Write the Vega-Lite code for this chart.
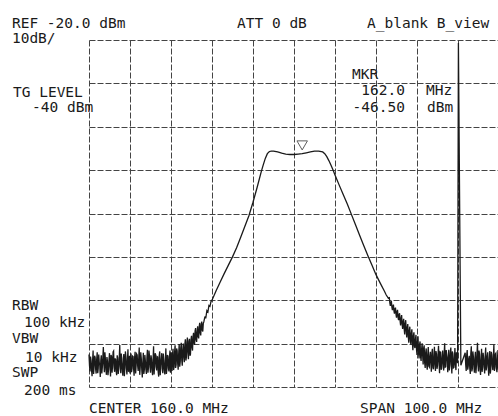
{
"$schema":"https://vega.github.io/schema/vega-lite/v6.json",
"width":410,"height":347,
"autosize":{"type":"none"},
"padding":{"left":89,"top":40,"right":0,"bottom":29},
"background":"white",
"config":{"view":{"stroke":null},"text":{"font":"DejaVu Sans Mono","fontSize":14.5,"color":"#1a1a1a","align":"left","baseline":"alphabetic"}},
"layer":[
{"data":{"values":[
{"f":110,"p":-92.5},{"f":110.25,"p":-96.4},{"f":110.5,"p":-93.9},{"f":110.75,"p":-97.5},{"f":111,"p":-91.6},{"f":111.25,"p":-95.2},{"f":111.5,"p":-93.2},{"f":111.75,"p":-96.9},{"f":112,"p":-92.0},{"f":112.25,"p":-95.7},{"f":112.5,"p":-94.3},{"f":112.75,"p":-97.7},{"f":113,"p":-92.7},{"f":113.25,"p":-95.5},{"f":113.5,"p":-90.8},{"f":113.75,"p":-96.6},{"f":114,"p":-93.5},{"f":114.25,"p":-97.2},{"f":114.5,"p":-94.1},{"f":114.75,"p":-96.1},{"f":115,"p":-92.2},{"f":115.25,"p":-97.6},{"f":115.5,"p":-93.0},{"f":115.75,"p":-95.0},{"f":116,"p":-91.7},{"f":116.25,"p":-96.5},{"f":116.5,"p":-93.7},{"f":116.75,"p":-97.3},{"f":117,"p":-93.3},{"f":117.25,"p":-95.8},{"f":117.5,"p":-90.3},{"f":117.75,"p":-96.8},{"f":118,"p":-94.4},{"f":118.25,"p":-97.4},{"f":118.5,"p":-92.4},{"f":118.75,"p":-95.4},{"f":119,"p":-92.9},{"f":119.25,"p":-97.1},{"f":119.5,"p":-91.3},{"f":119.75,"p":-96.0},
{"f":120,"p":-96.9},{"f":120.25,"p":-92.3},{"f":120.5,"p":-95.8},{"f":120.75,"p":-93.0},{"f":121,"p":-97.4},{"f":121.25,"p":-91.9},{"f":121.5,"p":-94.9},{"f":121.75,"p":-92.6},{"f":122,"p":-96.3},{"f":122.25,"p":-90.9},{"f":122.5,"p":-95.3},{"f":122.75,"p":-93.4},{"f":123,"p":-97.8},{"f":123.25,"p":-92.1},{"f":123.5,"p":-96.0},{"f":123.75,"p":-94.0},{"f":124,"p":-97.0},{"f":124.25,"p":-91.4},{"f":124.5,"p":-95.6},{"f":124.75,"p":-92.8},{"f":125,"p":-96.7},{"f":125.25,"p":-93.6},{"f":125.5,"p":-97.3},{"f":125.75,"p":-90.6},{"f":126,"p":-95.1},{"f":126.25,"p":-92.5},{"f":126.5,"p":-96.2},{"f":126.75,"p":-93.1},{"f":127,"p":-97.6},{"f":127.25,"p":-91.8},{"f":127.5,"p":-95.0},{"f":127.75,"p":-92.2},{"f":128,"p":-96.8},{"f":128.25,"p":-93.8},{"f":128.5,"p":-97.1},{"f":128.75,"p":-91.1},{"f":129,"p":-95.9},{"f":129.25,"p":-92.9},{"f":129.5,"p":-96.4},{"f":129.75,"p":-91.6},
{"f":130,"p":-92.0},{"f":130.25,"p":-96.3},{"f":130.5,"p":-91.2},{"f":130.75,"p":-95.4},{"f":131,"p":-90.4},{"f":131.25,"p":-94.9},{"f":131.5,"p":-91.6},{"f":131.75,"p":-96.0},{"f":132,"p":-90.1},{"f":132.25,"p":-94.2},{"f":132.5,"p":-89.8},{"f":132.75,"p":-95.1},
{"f":133,"p":-90.0},{"f":133.25,"p":-94.3},{"f":133.5,"p":-89.0},{"f":133.75,"p":-93.2},{"f":134,"p":-88.6},{"f":134.25,"p":-93.6},{"f":134.5,"p":-88.9},{"f":134.75,"p":-92.4},
{"f":135,"p":-88.2},{"f":135.25,"p":-91.6},{"f":135.5,"p":-87.5},{"f":135.75,"p":-90.3},{"f":136,"p":-86.4},{"f":136.25,"p":-89.6},{"f":136.5,"p":-86.0},{"f":136.75,"p":-88.8},{"f":137,"p":-85.2},{"f":137.25,"p":-88.1},{"f":137.5,"p":-84.9},{"f":137.75,"p":-87.2},
{"f":138,"p":-85.0},{"f":138.25,"p":-83.9},{"f":138.5,"p":-84.0},{"f":138.75,"p":-82.4},{"f":139,"p":-82.7},{"f":139.25,"p":-81.2},{"f":139.5,"p":-81.4},{"f":139.75,"p":-80.3},{"f":140,"p":-80.0},
{"f":141,"p":-77.8},{"f":142,"p":-75.8},{"f":143,"p":-73.8},{"f":144,"p":-71.9},{"f":145,"p":-70.0},{"f":146,"p":-67.9},{"f":147,"p":-65.5},{"f":148,"p":-63.0},{"f":149,"p":-60.5},{"f":150,"p":-57.4},{"f":151,"p":-54.0},{"f":152,"p":-50.4},{"f":152.5,"p":-48.8},{"f":153,"p":-47.3},{"f":153.5,"p":-46.2},{"f":154,"p":-45.7},{"f":154.5,"p":-45.6},{"f":155,"p":-45.6},{"f":156,"p":-45.8},{"f":157,"p":-46.1},{"f":158,"p":-46.3},{"f":159,"p":-46.4},{"f":160,"p":-46.4},{"f":161,"p":-46.3},{"f":162,"p":-46.2},{"f":163,"p":-46.0},{"f":164,"p":-45.8},{"f":165,"p":-45.6},{"f":166,"p":-45.6},{"f":167,"p":-45.8},{"f":167.5,"p":-46.2},{"f":168,"p":-46.9},{"f":168.5,"p":-47.8},{"f":169,"p":-48.8},{"f":169.5,"p":-49.9},{"f":170,"p":-51.1},{"f":171,"p":-53.4},{"f":172,"p":-55.6},{"f":173,"p":-57.8},{"f":174,"p":-60.2},{"f":175,"p":-62.6},{"f":176,"p":-65.0},{"f":177,"p":-67.4},{"f":178,"p":-69.7},{"f":179,"p":-71.9},{"f":180,"p":-74.1},{"f":181,"p":-76.0},{"f":182,"p":-77.8},{"f":182.5,"p":-78.8},{"f":183,"p":-79.5},
{"f":183.25,"p":-79.4},{"f":183.5,"p":-81.3},{"f":183.75,"p":-80.2},{"f":184,"p":-82.3},{"f":184.25,"p":-81.0},{"f":184.5,"p":-83.1},{"f":184.75,"p":-81.7},{"f":185,"p":-84.0},{"f":185.25,"p":-82.2},{"f":185.5,"p":-84.6},{"f":185.75,"p":-83.0},{"f":186,"p":-85.8},{"f":186.25,"p":-83.4},{"f":186.5,"p":-86.6},{"f":186.75,"p":-84.3},{"f":187,"p":-87.9},{"f":187.25,"p":-84.6},{"f":187.5,"p":-88.6},{"f":187.75,"p":-85.5},{"f":188,"p":-89.8},{"f":188.25,"p":-86.1},{"f":188.5,"p":-90.2},{"f":188.75,"p":-86.7},{"f":189,"p":-91.5},{"f":189.25,"p":-87.4},{"f":189.5,"p":-91.0},{"f":189.75,"p":-88.0},{"f":190,"p":-92.6},{"f":190.25,"p":-88.3},{"f":190.5,"p":-93.4},{"f":190.75,"p":-89.5},{"f":191,"p":-94.0},{"f":191.25,"p":-89.9},{"f":191.5,"p":-94.8},{"f":191.75,"p":-90.4},{"f":192,"p":-95.6},{"f":192.25,"p":-91.1},{"f":192.5,"p":-96.0},{"f":192.75,"p":-90.8},{"f":193,"p":-95.4},{"f":193.25,"p":-91.9},{"f":193.5,"p":-96.5},{"f":193.75,"p":-91.2},{"f":194,"p":-95.9},{"f":194.25,"p":-90.7},{"f":194.5,"p":-96.3},{"f":194.75,"p":-92.4},{"f":195,"p":-95.1},{"f":195.25,"p":-90.5},{"f":195.5,"p":-96.8},{"f":195.75,"p":-92.0},{"f":196,"p":-95.7},{"f":196.25,"p":-91.6},{"f":196.5,"p":-96.2},{"f":196.75,"p":-89.9},{"f":197,"p":-95.3},{"f":197.25,"p":-92.7},{"f":197.5,"p":-96.6},{"f":197.75,"p":-91.4},{"f":198,"p":-95.0},{"f":198.25,"p":-90.9},{"f":198.5,"p":-96.9},{"f":198.75,"p":-92.3},{"f":199,"p":-95.5},{"f":199.25,"p":-91.0},{"f":199.5,"p":-96.1},{"f":199.75,"p":-92.6},{"f":199.9,"p":-94.5},
{"f":200.1,"p":-20.7},{"f":200.7,"p":-95.0},
{"f":201.75,"p":-92.1},{"f":202,"p":-96.3},{"f":202.25,"p":-91.5},{"f":202.5,"p":-95.2},{"f":202.75,"p":-92.8},{"f":203,"p":-97.0},{"f":203.25,"p":-90.6},{"f":203.5,"p":-95.8},{"f":203.75,"p":-93.0},{"f":204,"p":-96.7},{"f":204.25,"p":-91.9},{"f":204.5,"p":-95.0},{"f":204.75,"p":-89.8},{"f":205,"p":-96.4},{"f":205.25,"p":-92.4},{"f":205.5,"p":-97.2},{"f":205.75,"p":-91.2},{"f":206,"p":-95.5},{"f":206.25,"p":-93.3},{"f":206.5,"p":-96.9},{"f":206.75,"p":-90.9},{"f":207,"p":-95.1},{"f":207.25,"p":-92.0},{"f":207.5,"p":-97.4},{"f":207.75,"p":-91.7},{"f":208,"p":-95.9},{"f":208.25,"p":-92.6},{"f":208.5,"p":-96.1},{"f":208.75,"p":-90.2},{"f":209,"p":-95.3},{"f":209.25,"p":-92.2},{"f":209.5,"p":-96.6},{"f":209.75,"p":-91.5},{"f":210,"p":-95.0},
{"f":110.125,"p":-95.1},{"f":110.375,"p":-93.0},{"f":110.625,"p":-96.2},{"f":110.875,"p":-94.0},{"f":111.125,"p":-97.0},{"f":111.375,"p":-92.8},{"f":111.625,"p":-95.9},{"f":111.875,"p":-93.6},{"f":112.125,"p":-96.8},{"f":112.375,"p":-92.5},{"f":112.625,"p":-95.0},{"f":112.875,"p":-93.9},{"f":113.125,"p":-96.9},{"f":113.375,"p":-93.2},{"f":113.625,"p":-94.7},{"f":113.875,"p":-92.0},{"f":114.125,"p":-96.0},{"f":114.375,"p":-93.1},{"f":114.625,"p":-97.3},{"f":114.875,"p":-93.8},{"f":115.125,"p":-95.3},{"f":115.375,"p":-92.6},{"f":115.625,"p":-96.7},{"f":115.875,"p":-91.9},{"f":116.125,"p":-95.6},{"f":116.375,"p":-93.4},{"f":116.625,"p":-96.4},{"f":116.875,"p":-92.7},{"f":117.125,"p":-97.0},{"f":117.375,"p":-93.5},{"f":117.625,"p":-95.2},{"f":117.875,"p":-92.3},{"f":118.125,"p":-96.1},{"f":118.375,"p":-93.3},{"f":118.625,"p":-97.5},{"f":118.875,"p":-91.8},{"f":119.125,"p":-95.8},{"f":119.375,"p":-93.7},{"f":119.625,"p":-96.5},{"f":119.875,"p":-92.8},
{"f":120.125,"p":-94.1},{"f":120.375,"p":-96.6},{"f":120.625,"p":-92.9},{"f":120.875,"p":-95.7},{"f":121.125,"p":-93.2},{"f":121.375,"p":-96.9},{"f":121.625,"p":-92.4},{"f":121.875,"p":-95.2},{"f":122.125,"p":-93.5},{"f":122.375,"p":-97.2},{"f":122.625,"p":-92.0},{"f":122.875,"p":-96.1},{"f":123.125,"p":-94.4},{"f":123.375,"p":-97.0},{"f":123.625,"p":-92.6},{"f":123.875,"p":-95.9},{"f":124.125,"p":-93.3},{"f":124.375,"p":-96.7},{"f":124.625,"p":-91.6},{"f":124.875,"p":-95.3},{"f":125.125,"p":-92.7},{"f":125.375,"p":-96.0},{"f":125.625,"p":-93.9},{"f":125.875,"p":-97.1},{"f":126.125,"p":-92.2},{"f":126.375,"p":-95.4},{"f":126.625,"p":-93.0},{"f":126.875,"p":-96.5},{"f":127.125,"p":-92.8},{"f":127.375,"p":-97.3},{"f":127.625,"p":-93.6},{"f":127.875,"p":-95.8},{"f":128.125,"p":-92.3},{"f":128.375,"p":-96.2},{"f":128.625,"p":-94.0},{"f":128.875,"p":-97.0},{"f":129.125,"p":-92.6},{"f":129.375,"p":-95.6},{"f":129.625,"p":-93.1},{"f":129.875,"p":-96.7},
{"f":130.125,"p":-94.6},{"f":130.375,"p":-92.4},{"f":130.625,"p":-96.1},{"f":130.875,"p":-92.0},{"f":131.125,"p":-95.6},{"f":131.375,"p":-91.1},{"f":131.625,"p":-94.5},{"f":131.875,"p":-92.3},{"f":132.125,"p":-95.3},{"f":132.375,"p":-91.0},{"f":132.625,"p":-93.8},{"f":132.875,"p":-91.4},
{"f":133.125,"p":-93.0},{"f":133.375,"p":-90.2},{"f":133.625,"p":-93.9},{"f":133.875,"p":-89.6},{"f":134.125,"p":-92.1},{"f":134.375,"p":-89.4},{"f":134.625,"p":-92.8},{"f":134.875,"p":-89.1},
{"f":135.125,"p":-90.9},{"f":135.375,"p":-88.4},{"f":135.625,"p":-89.9},{"f":135.875,"p":-87.1},{"f":136.125,"p":-89.1},{"f":136.375,"p":-87.3},{"f":136.625,"p":-88.4},{"f":136.875,"p":-86.2},{"f":137.125,"p":-87.5},{"f":137.375,"p":-85.6},{"f":137.625,"p":-86.9},{"f":137.875,"p":-85.4},
{"f":183.375,"p":-80.6},{"f":183.625,"p":-80.5},{"f":183.875,"p":-81.6},{"f":184.125,"p":-81.4},{"f":184.375,"p":-82.4},{"f":184.625,"p":-82.0},{"f":184.875,"p":-83.2},{"f":185.125,"p":-82.7},{"f":185.375,"p":-83.9},{"f":185.625,"p":-83.4},{"f":185.875,"p":-84.7},{"f":186.125,"p":-84.2},{"f":186.375,"p":-85.5},{"f":186.625,"p":-85.0},{"f":186.875,"p":-86.6},{"f":187.125,"p":-85.4},{"f":187.375,"p":-87.2},{"f":187.625,"p":-86.3},{"f":187.875,"p":-88.4},{"f":188.125,"p":-87.0},{"f":188.375,"p":-89.1},{"f":188.625,"p":-87.6},{"f":188.875,"p":-89.9},{"f":189.125,"p":-88.2},{"f":189.375,"p":-90.6},{"f":189.625,"p":-89.0},{"f":189.875,"p":-91.3},{"f":190.125,"p":-89.6},{"f":190.375,"p":-92.1},{"f":190.625,"p":-90.2},{"f":190.875,"p":-93.0},{"f":191.125,"p":-91.3},{"f":191.375,"p":-92.7},{"f":191.625,"p":-91.0},{"f":191.875,"p":-94.4},{"f":192.125,"p":-92.0},{"f":192.375,"p":-94.9},{"f":192.625,"p":-92.5},{"f":192.875,"p":-95.2},{"f":193.125,"p":-93.0},{"f":193.375,"p":-94.4},{"f":193.625,"p":-92.2},{"f":193.875,"p":-95.5},{"f":194.125,"p":-92.9},{"f":194.375,"p":-94.8},{"f":194.625,"p":-91.7},{"f":194.875,"p":-95.8},{"f":195.125,"p":-92.6},{"f":195.375,"p":-94.2},{"f":195.625,"p":-91.9},{"f":195.875,"p":-96.0},{"f":196.125,"p":-93.1},{"f":196.375,"p":-94.6},{"f":196.625,"p":-92.4},{"f":196.875,"p":-95.4},{"f":197.125,"p":-91.5},{"f":197.375,"p":-94.0},{"f":197.625,"p":-93.1},{"f":197.875,"p":-96.2},{"f":198.125,"p":-92.2},{"f":198.375,"p":-94.7},{"f":198.625,"p":-91.8},{"f":198.875,"p":-95.6},{"f":199.125,"p":-93.4},{"f":199.375,"p":-94.9},{"f":199.625,"p":-92.0},
{"f":201.875,"p":-94.8},{"f":202.125,"p":-92.6},{"f":202.375,"p":-96.0},{"f":202.625,"p":-93.5},{"f":202.875,"p":-95.7},{"f":203.125,"p":-92.2},{"f":203.375,"p":-96.4},{"f":203.625,"p":-91.8},{"f":203.875,"p":-95.2},{"f":204.125,"p":-93.4},{"f":204.375,"p":-96.8},{"f":204.625,"p":-92.5},{"f":204.875,"p":-95.0},{"f":205.125,"p":-91.6},{"f":205.375,"p":-95.9},{"f":205.625,"p":-93.7},{"f":205.875,"p":-96.5},{"f":206.125,"p":-92.1},{"f":206.375,"p":-95.3},{"f":206.625,"p":-93.0},{"f":206.875,"p":-96.2},{"f":207.125,"p":-92.8},{"f":207.375,"p":-95.6},{"f":207.625,"p":-93.9},{"f":207.875,"p":-96.9},{"f":208.125,"p":-91.9},{"f":208.375,"p":-95.1},{"f":208.625,"p":-93.2},{"f":208.875,"p":-96.3},{"f":209.125,"p":-92.4},{"f":209.375,"p":-95.8},{"f":209.625,"p":-93.6},{"f":209.875,"p":-96.0}
]},
"mark":{"type":"line","color":"#1a1a1a","strokeWidth":1.3,"strokeJoin":"miter"},
"encoding":{
"x":{"field":"f","type":"quantitative","scale":{"domain":[110,210],"nice":false,"zero":false},"axis":{"values":[110,120,130,140,150,160,170,180,190,200,210],"labels":false,"ticks":false,"domain":false,"title":null,"grid":true,"gridColor":"#444","gridDash":[6,2],"gridWidth":1}},
"y":{"field":"p","type":"quantitative","scale":{"domain":[-100,-20],"nice":false,"zero":false},"axis":{"values":[-100,-90,-80,-70,-60,-50,-40,-30,-20],"labels":false,"ticks":false,"domain":false,"title":null,"grid":true,"gridColor":"#444","gridDash":[6,2],"gridWidth":1}},
"order":{"field":"f","type":"quantitative"}
}},
{"data":{"values":[{"m":"marker"}]},"mark":{"type":"point","shape":"triangle-down","filled":false,"size":110,"stroke":"#1a1a1a","strokeWidth":1},"encoding":{"x":{"datum":162},"y":{"datum":-44.3}}},
{"data":{"values":[{"t":"REF -20.0 dBm"}]},"mark":"text","encoding":{"x":{"datum":91.2},"y":{"datum":-17.23},"text":{"field":"t"}}},
{"data":{"values":[{"t":"10dB/"}]},"mark":"text","encoding":{"x":{"datum":91.2},"y":{"datum":-20.69},"text":{"field":"t"}}},
{"data":{"values":[{"t":"ATT 0 dB"}]},"mark":"text","encoding":{"x":{"datum":146.1},"y":{"datum":-17.23},"text":{"field":"t"}}},
{"data":{"values":[{"t":"A_blank B_view"}]},"mark":"text","encoding":{"x":{"datum":177.8},"y":{"datum":-17.23},"text":{"field":"t"}}},
{"data":{"values":[{"t":"TG LEVEL"}]},"mark":"text","encoding":{"x":{"datum":91.46},"y":{"datum":-33.14},"text":{"field":"t"}}},
{"data":{"values":[{"t":"-40 dBm"}]},"mark":"text","encoding":{"x":{"datum":96.1},"y":{"datum":-36.6},"text":{"field":"t"}}},
{"data":{"values":[{"t":"MKR"}]},"mark":"text","encoding":{"x":{"datum":174.15},"y":{"datum":-28.99},"text":{"field":"t"}}},
{"data":{"values":[{"t":"162.0"}]},"mark":{"type":"text","align":"right"},"encoding":{"x":{"datum":187.07},"y":{"datum":-32.68},"text":{"field":"t"}}},
{"data":{"values":[{"t":"MHz"}]},"mark":"text","encoding":{"x":{"datum":192.2},"y":{"datum":-32.68},"text":{"field":"t"}}},
{"data":{"values":[{"t":"-46.50"}]},"mark":{"type":"text","align":"right"},"encoding":{"x":{"datum":187.07},"y":{"datum":-36.6},"text":{"field":"t"}}},
{"data":{"values":[{"t":"dBm"}]},"mark":"text","encoding":{"x":{"datum":192.44},"y":{"datum":-36.6},"text":{"field":"t"}}},
{"data":{"values":[{"t":"RBW"}]},"mark":"text","encoding":{"x":{"datum":91.2},"y":{"datum":-82.25},"text":{"field":"t"}}},
{"data":{"values":[{"t":"100 kHz"}]},"mark":"text","encoding":{"x":{"datum":94.15},"y":{"datum":-86.17},"text":{"field":"t"}}},
{"data":{"values":[{"t":"VBW"}]},"mark":"text","encoding":{"x":{"datum":91.2},"y":{"datum":-89.86},"text":{"field":"t"}}},
{"data":{"values":[{"t":"10 kHz"}]},"mark":"text","encoding":{"x":{"datum":94.4},"y":{"datum":-94.24},"text":{"field":"t"}}},
{"data":{"values":[{"t":"SWP"}]},"mark":"text","encoding":{"x":{"datum":91.2},"y":{"datum":-97.69},"text":{"field":"t"}}},
{"data":{"values":[{"t":"200 ms"}]},"mark":"text","encoding":{"x":{"datum":94.15},"y":{"datum":-101.84},"text":{"field":"t"}}},
{"data":{"values":[{"t":"CENTER 160.0 MHz"}]},"mark":"text","encoding":{"x":{"datum":110.0},"y":{"datum":-106.0},"text":{"field":"t"}}},
{"data":{"values":[{"t":"SPAN 100.0 MHz"}]},"mark":"text","encoding":{"x":{"datum":176.1},"y":{"datum":-106.0},"text":{"field":"t"}}}
]
}
